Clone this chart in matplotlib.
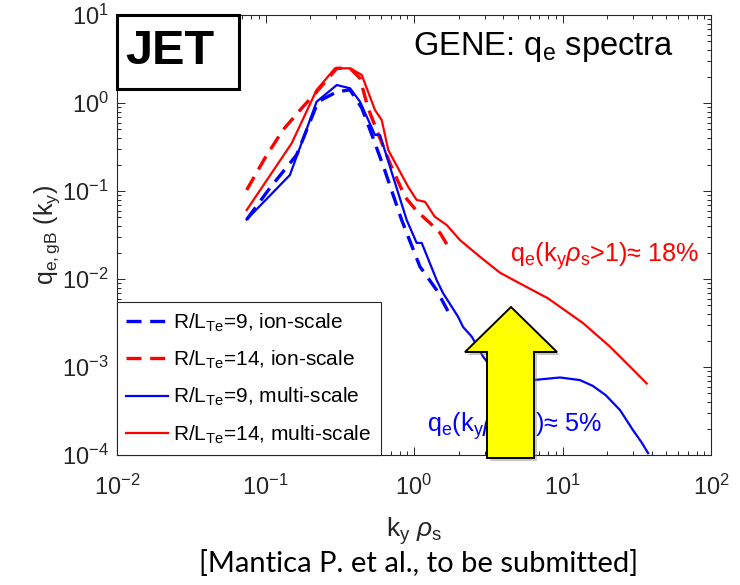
import matplotlib
matplotlib.use("Agg")
import matplotlib.pyplot as plt
from matplotlib.patches import Rectangle, Polygon

plt.rcParams['font.family'] = ['Liberation Sans', 'DejaVu Sans']
plt.rcParams['mathtext.fontset'] = 'custom'
plt.rcParams['mathtext.rm'] = 'Liberation Sans'
plt.rcParams['mathtext.it'] = 'Liberation Sans:italic'
plt.rcParams['mathtext.default'] = 'regular'

# GENE electron heat flux spectra, q_e,gB(k_y)
ky_ion9 = [0.0747, 0.107, 0.162, 0.226, 0.302, 0.371, 0.445, 0.530, 0.628,
           0.826, 1.097, 1.42, 1.69]
qe_ion9 = [0.0474, 0.108, 0.257, 1.035, 1.34, 1.41, 0.878, 0.40, 0.182,
           0.0468, 0.0138, 0.0075, 0.00433]

ky_ion14 = [0.0747, 0.0992, 0.131, 0.179, 0.221, 0.302, 0.371, 0.433, 0.490,
            0.590, 0.689, 0.869, 1.042, 1.28, 1.50, 1.70]
qe_ion14 = [0.1026, 0.237, 0.493, 0.908, 1.34, 2.48, 2.48, 1.91, 0.878,
            0.397, 0.206, 0.0861, 0.0593, 0.0433, 0.0333, 0.0233]

ky_multi9 = [0.0747, 0.146, 0.221, 0.302, 0.371, 0.433, 0.546, 0.590, 0.893,
             1.042, 1.127, 1.42, 1.567, 1.98, 2.14, 2.45, 2.92, 3.15, 4.43,
             6.33, 9.62, 13.1, 16.0, 19.5, 24.4, 29.8, 34.0, 37.7]
qe_multi9 = [0.0474, 0.152, 1.035, 1.60, 1.47, 1.035, 0.433, 0.433, 0.0468,
             0.0257, 0.0257, 0.00975, 0.00693, 0.00373, 0.00285, 0.00221,
             0.00131, 0.00111, 0.00066, 0.00071, 0.00076, 0.00071, 0.00061,
             0.00048, 0.000324, 0.000192, 0.000140, 0.000105]

ky_multi14 = [0.0747, 0.150, 0.221, 0.294, 0.371, 0.445, 0.546, 0.606, 0.671,
              0.912, 1.042, 1.186, 1.38, 1.66, 2.04, 2.78, 3.79, 4.92, 8.02,
              13.8, 20.9, 28.5, 36.9]
qe_multi14 = [0.0608, 0.348, 1.41, 2.48, 2.48, 2.08, 0.832, 0.641, 0.292,
              0.112, 0.0791, 0.0755, 0.0510, 0.0411, 0.0277, 0.0179, 0.0118,
              0.0093, 0.0060, 0.00314, 0.00170, 0.00101, 0.00065]

labels = [r'R/L$_{Te}$=9, ion-scale', r'R/L$_{Te}$=14, ion-scale',
          r'R/L$_{Te}$=9, multi-scale', r'R/L$_{Te}$=14, multi-scale']

W, H = 740, 585
fig = plt.figure(figsize=(W / 100, H / 100), dpi=100)
ax = fig.add_axes([117 / W, 1 - 455 / H, 594 / W, 440 / H])

dash = (4.5, 2.6)
ax.plot(ky_ion9, qe_ion9, color='#0000ff', lw=2.4, dashes=dash, label=labels[0])
ax.plot(ky_ion14, qe_ion14, color='#ff0000', lw=2.4, dashes=dash, label=labels[1])
ax.plot(ky_multi9, qe_multi9, color='#0000ff', lw=1.6, label=labels[2])
ax.plot(ky_multi14, qe_multi14, color='#ff0000', lw=1.6, label=labels[3])

ax.set_xscale('log')
ax.set_yscale('log')
ax.set_xlim(1e-2, 1e2)
ax.set_ylim(1e-4, 1e1)

dark = '#262626'
for s in ax.spines.values():
    s.set_color(dark)
    s.set_linewidth(0.8)
ax.tick_params(which='both', direction='in', top=True, right=True,
               color=dark, labelcolor=dark, labelsize=17, width=0.7)
ax.tick_params(which='major', length=6)
ax.tick_params(which='minor', length=3)
ax.tick_params(axis='x', which='major', pad=14)
ax.tick_params(axis='y', which='major', pad=6)

ax.set_xlabel(r'k$_y$ $\mathit{\rho}_s$', fontsize=19, color=dark, labelpad=11)
ax.set_ylabel(r'q$_{e,gB}$ (k$_y$)', fontsize=18, color=dark, labelpad=0)

leg = ax.legend(loc='lower left', bbox_to_anchor=(0, 0), borderaxespad=0,
                fontsize=15, handlelength=2.0, handletextpad=0.25,
                labelspacing=0.72, borderpad=0.45, fancybox=False,
                framealpha=1, edgecolor=dark)
leg.get_frame().set_linewidth(0.8)
leg.set_zorder(5)

# JET tag in the upper left corner
ax.add_patch(Rectangle((0, 1 - 74 / 440), 122 / 594, 74 / 440,
                       transform=ax.transAxes, facecolor='white',
                       edgecolor='black', lw=2.2, zorder=6, clip_on=False))
ax.text(8 / 594, 1 - 37 / 440, 'JET', transform=ax.transAxes, fontsize=35,
        fontweight='bold', ha='left', va='center', zorder=7)

ax.text(296 / 594, 1 - 40 / 440, r'GENE: q$_e$ spectra', transform=ax.transAxes,
        fontsize=23.5, ha='left', va='baseline')

ax.text(393 / 594, 1 - 247 / 440,
        r'q$_e$(k$_y$$\mathit{\rho}_s$>1)≈ 18%', transform=ax.transAxes,
        fontsize=18.2, color='#ff0000', ha='left', va='baseline')
ax.text(310 / 594, 1 - 417 / 440,
        r'q$_e$(k$_y$$\mathit{\rho}_s$>1)≈ 5%', transform=ax.transAxes,
        fontsize=18.2, color='#0000ff', ha='left', va='baseline')

# Upward arrow pointing at the small-scale contribution
arrow_px = [(511, 307), (557, 352), (534, 352), (534, 458),
            (487, 458), (487, 352), (465, 352)]
shadow = Polygon([((x + 3) / W, 1 - (y + 3) / H) for x, y in arrow_px],
                 closed=True, transform=fig.transFigure, facecolor='#888888',
                 edgecolor='none', alpha=0.45, zorder=8)
arrow = Polygon([(x / W, 1 - y / H) for x, y in arrow_px], closed=True,
                transform=fig.transFigure, facecolor='#ffff00',
                edgecolor='black', lw=1.4, zorder=9)
fig.patches.extend([shadow, arrow])

fig.text(419 / W, 1 - 563 / H, '[Mantica P. et al., to be submitted]',
         fontsize=21, family=['Lato', 'DejaVu Sans'], ha='center', va='center')

fig.savefig('out.png', dpi=100)
